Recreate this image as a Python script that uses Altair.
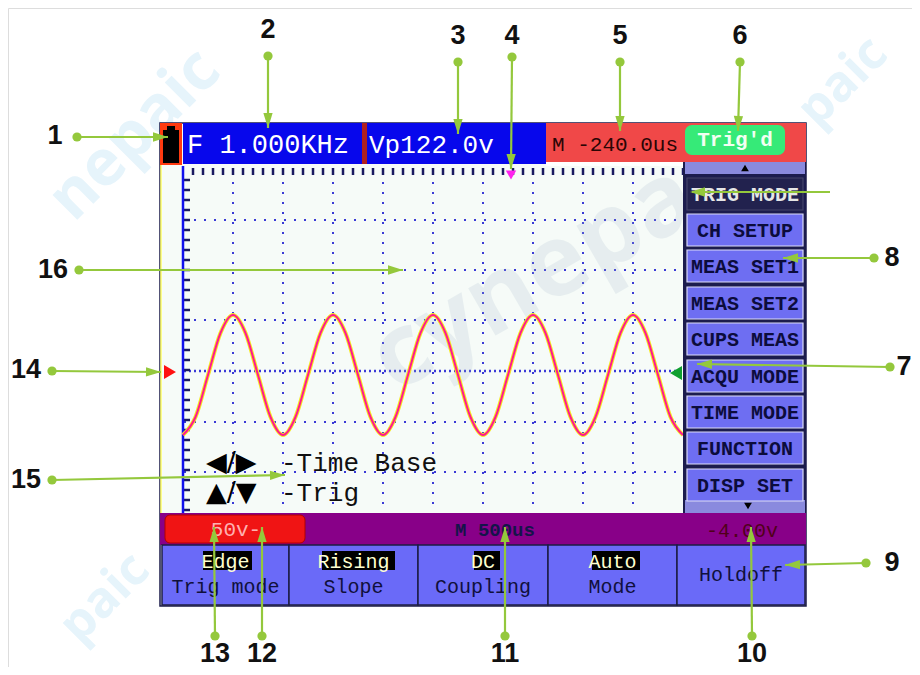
import math
import altair as alt
import pandas as pd

# ---------------- data (screen pixel frame) ----------------
# waveform samples
wave_x = [183, 195.5, 208, 220.5, 233, 245.5, 258, 270.5, 283, 295.5, 308, 320.5, 333, 345.5,
          358, 370.5, 383, 395.5, 408, 420.5, 433, 445.5, 458, 470.5, 483, 495.5, 508, 520.5,
          533, 545.5, 558, 570.5, 583, 595.5, 608, 620.5, 633, 645.5, 658, 670.5, 683]
wave_y = [435, 417, 375, 333, 315, 333, 375, 417,
          435, 417, 375, 333, 315, 333, 375, 417,
          435, 417, 375, 333, 315, 333, 375, 417,
          435, 417, 375, 333, 315, 333, 375, 417,
          435, 417, 375, 333, 315, 333, 375, 417,
          435]

grid_vx = [233, 283, 333, 383, 433, 483, 533, 583, 633]
grid_hy = [220, 270, 320, 422, 472]
grid_center_y = [371]

menu_items = ["TRIG MODE", "CH SETUP", "MEAS SET1", "MEAS SET2", "CUPS MEAS",
              "ACQU MODE", "TIME MODE", "FUNCTION", "DISP SET"]
menu_cy = [194, 230, 266, 303, 339, 376, 412, 448, 485]

btn_x0 = [162, 289, 418, 548, 677]
btn_x1 = [289, 418, 548, 677, 805]
btn_top = ["Edge", "Rising", "DC", "Auto", ""]
btn_bot = ["Trig mode", "Slope", "Coupling", "Mode", "Holdoff"]
hl_x0 = [203, 322, 474, 592]
hl_x1 = [252, 395, 500, 640]

callout_label = ["1", "2", "3", "4", "5", "6", "8", "7", "9", "10", "11", "12", "13", "14", "15", "16"]
callout_lx = [55, 268, 458, 512, 620, 740, 892, 904, 892, 752, 505, 262, 215, 26, 26, 53]
callout_ly = [136, 30, 36, 36, 36, 36, 258, 367, 563, 654, 654, 654, 654, 370, 480, 270]
callout_dx = [77, 268, 458, 512, 620, 740, 874, 890, 866, 752, 505, 262, 215, 52, 52, 79]
callout_dy = [137, 56, 62, 57, 62, 62, 258, 367, 563, 636, 636, 636, 636, 371, 480, 270]
callout_tx = [168, 268, 458, 511, 620, 738, 783, 697, 785, 751, 505, 262, 214, 161, 285, 403]
callout_ty = [137, 128, 134, 169, 131, 131, 258, 364, 565, 527, 527, 527, 527, 372, 475, 270]

# ---------------- scales ----------------
xs = alt.Scale(domain=[8, 912], nice=False, zero=False)
ys = alt.Scale(domain=[8, 667], nice=False, zero=False, reverse=True)


def X(f="x"):
    return alt.X(f"{f}:Q", scale=xs, axis=None)


def Y(f="y"):
    return alt.Y(f"{f}:Q", scale=ys, axis=None)


def rects(rows, radius=0):
    df = pd.DataFrame(rows, columns=["x", "x2", "y", "y2", "fill", "stroke", "sw"])
    return alt.Chart(df).mark_rect(cornerRadius=radius).encode(
        x=X("x"), x2="x2", y=Y("y"), y2="y2",
        color=alt.Color("fill:N", scale=None),
        stroke=alt.Stroke("stroke:N", scale=None),
        strokeWidth=alt.StrokeWidth("sw:Q", scale=None),
    )


def texts(rows, font, weight="normal", align="center", angle=0, opacity=1.0):
    df = pd.DataFrame(rows, columns=["x", "y", "text", "size", "color"])
    return alt.Chart(df).mark_text(font=font, fontWeight=weight, align=align,
                                   baseline="middle", angle=angle, opacity=opacity).encode(
        x=X(), y=Y(), text="text:N",
        color=alt.Color("color:N", scale=None),
        size=alt.Size("size:Q", scale=None),
    )


def rules(rows, dash=None, cap="butt"):
    df = pd.DataFrame(rows, columns=["x", "x2", "y", "y2", "color", "sw"])
    mk = alt.Chart(df).mark_rule(strokeDash=dash, strokeCap=cap) if dash else alt.Chart(df).mark_rule(strokeCap=cap)
    return mk.encode(
        x=X("x"), x2="x2", y=Y("y"), y2="y2",
        color=alt.Color("color:N", scale=None),
        strokeWidth=alt.StrokeWidth("sw:Q", scale=None),
    )


def symbols(rows, shape):
    df = pd.DataFrame(rows, columns=["x", "y", "size", "color", "angle"])
    return alt.Chart(df).mark_point(shape=shape, filled=True, opacity=1, strokeWidth=0).encode(
        x=X(), y=Y(),
        size=alt.Size("size:Q", scale=None),
        color=alt.Color("color:N", scale=None),
        angle=alt.Angle("angle:Q", scale=None),
    )


layers = []

# ---------------- watermarks (under everything) ----------------
layers.append(texts([[135, 135, "nepaic", 64, "#e6f4fb"],
                     [105, 598, "paic", 50, "#e6f4fb"],
                     [843, 82, "paic", 50, "#e6f4fb"]],
                    font="Open Sans", weight="bold", angle=315))

# ---------------- screen body ----------------
layers.append(rects([
    [160, 806, 123, 606, "#f6fbf8", "#1a1a4a", 1.5],      # screen frame
]))
layers.append(rules([[161, 161, 165, 513, "#ffff66", 1.5]]))

# grid
layers.append(rules([[gx, gx, 172, 512, "#3a3ad6", 2] for gx in grid_vx] +
                    [[184, 683, gy, gy, "#3a3ad6", 2] for gy in grid_hy], dash=[2, 8]))
layers.append(rules([[184, 683, gy, gy, "#3a3ad6", 2.5] for gy in grid_center_y], dash=[2, 3]))
# edge ticks
layers.append(rules([[tx, tx, 168, 175, "#1a1a60", 2.5] for tx in range(193, 684, 10)] +
                    [[183, 190, ty, ty, "#1a1a60", 2.5] for ty in range(180, 512, 10)]))
layers.append(rules([[183, 183, 166, 513, "#1010ee", 2.5]]))

# middle watermark (semi transparent over the grid)
layers.append(texts([[570, 258, "cynepaic", 100, "#9fb4c8"]],
                    font="Open Sans", weight="bold", angle=330, opacity=0.18))

# waveform
wave = pd.DataFrame({"x": wave_x, "y": wave_y})
layers.append(alt.Chart(wave).mark_line(interpolate="monotone", color="#f4ea20", strokeWidth=4).encode(x=X(), y=Y()))
layers.append(alt.Chart(wave).mark_line(interpolate="monotone", color="#ff1a8e", strokeWidth=2).encode(x=X(), y=Y()))

# overlay help text
layers.append(texts([[206, 463, "◀/▶", 27, "#000000"], [206, 493, "▲/▼", 27, "#000000"]],
                    font="DejaVu Sans", align="left"))
layers.append(texts([[281, 463, "-Time Base", 26, "#101010"], [281, 493, "-Trig", 26, "#101010"]],
                    font="Liberation Mono", align="left"))

# markers
layers.append(symbols([[170, 372, 190, "#ff1010", 0]], "triangle-right"))
layers.append(symbols([[676, 373, 190, "#10a030", 0]], "triangle-left"))
layers.append(symbols([[511, 175, 110, "#ff22ee", 0]], "triangle-down"))

# ---------------- top bar ----------------
layers.append(rects([
    [160, 182, 123, 165, "#ff3a10", "#ff3a10", 0],
    [163, 179, 130, 163, "#000000", "#000000", 0],
    [167, 175, 126, 131, "#000000", "#000000", 0],
    [183, 362, 123, 164, "#0707ec", "#0707ec", 0],
    [362, 367, 123, 164, "#b02020", "#b02020", 0],
    [367, 546, 123, 164, "#0707ec", "#0707ec", 0],
    [546, 806, 123, 162, "#f04848", "#f04848", 0],
    [546, 685, 162, 166, "#ffffff", "#ffffff", 0],
]))
layers.append(rects([[685, 785, 125, 155, "#36ea78", "#36ea78", 0]], radius=7))
layers.append(texts([[187, 145, "F 1.000KHz", 27, "#ffffff"],
                     [369, 145, "Vp122.0v", 26, "#ffffff"]],
                    font="Liberation Mono", align="left"))
layers.append(texts([[552, 145, "M -240.0us", 21, "#2a0505"]],
                    font="Liberation Mono", align="left"))
layers.append(texts([[735, 140, "Trig'd", 21, "#f2fff2"]], font="Liberation Mono", weight="bold"))

# ---------------- right menu ----------------
menu_rows = [[683, 806, 162, 513, "#1c1c4e", "#1c1c4e", 0],
             [685, 805, 162, 174, "#8a8ade", "#8a8ade", 0],
             [685, 805, 500, 513, "#8a8ade", "#8a8ade", 0]]
for i, cy in enumerate(menu_cy):
    fill = "#22224e" if i == 0 else "#6e6ef2"
    edge = "#dcdcf8" if i > 0 else "#44446a"
    menu_rows.append([687, 803, cy - 16, cy + 16, fill, edge, 1.2])
layers.append(rects(menu_rows))
layers.append(symbols([[745, 168, 60, "#000000", 0]], "triangle-up"))
layers.append(symbols([[748, 506, 60, "#000000", 0]], "triangle-down"))
layers.append(texts([[745, cy + 1, t, 20, "#e6e6e6" if i == 0 else "#0c0c3c"]
                     for i, (t, cy) in enumerate(zip(menu_items, menu_cy))],
                    font="Liberation Mono", weight="bold"))

# ---------------- bottom status bar ----------------
layers.append(rects([[160, 806, 513, 545, "#880088", "#880088", 0]]))
layers.append(rects([[165, 305, 515, 543, "#f01414", "#b00000", 1]], radius=5))
layers.append(texts([[236, 530, "50v-", 21, "#ffb0b0"]], font="Liberation Mono"))
layers.append(texts([[495, 530, "M 500us", 19, "#14144a"]], font="Liberation Mono", weight="bold"))
layers.append(texts([[742, 531, "-4.00v", 20, "#50001a"]], font="Liberation Mono"))

# ---------------- bottom buttons ----------------
btn_rows = [[a, b, 545, 605, "#6a6af8", "#1c1c44", 1.5] for a, b in zip(btn_x0, btn_x1)]
btn_rows += [[a, b, 551, 570, "#000000", "#000000", 0] for a, b in zip(hl_x0, hl_x1)]
layers.append(rects(btn_rows))
btn_txt = []
for a, b, t1, t2 in zip(btn_x0, btn_x1, btn_top, btn_bot):
    cx = (a + b) / 2
    if t1:
        btn_txt.append([cx, 562, t1, 20, "#ffffd0"])
        btn_txt.append([cx, 587, t2, 20, "#10103c"])
    else:
        btn_txt.append([cx, 575, t2, 20, "#10103c"])
layers.append(texts(btn_txt, font="Liberation Mono"))

# ---------------- callouts ----------------
GREEN = "#94c83c"
line_rows = [[dx, tx, dy, ty, GREEN, 2.2] for dx, dy, tx, ty in zip(callout_dx, callout_dy, callout_tx, callout_ty)]
line_rows.append([830, 692, 192, 192, GREEN, 2.2])   # trigger-mode pointer (no number)
layers.append(rules(line_rows))
layers.append(alt.Chart(pd.DataFrame({"x": callout_dx, "y": callout_dy})).mark_circle(
    size=85, color=GREEN, opacity=1).encode(x=X(), y=Y()))

arrow_rows = []
for dx, dy, tx, ty in list(zip(callout_dx, callout_dy, callout_tx, callout_ty)) + [(830, 192, 690, 192)]:
    ang = math.degrees(math.atan2(tx - dx, -(ty - dy))) % 360
    arrow_rows.append([tx, ty, 225, GREEN, ang])
layers.append(symbols(arrow_rows, "M0,0L-0.62,2L0.62,2Z"))

layers.append(texts([[lx, ly, t, 27, "#111111"] for t, lx, ly in zip(callout_label, callout_lx, callout_ly)],
                    font="Liberation Sans Narrow, Liberation Sans, Arial", weight="bold"))

chart = alt.layer(*layers).properties(
    width=904, height=659, padding=0,
    autosize=alt.AutoSizeParams(type="none"),
).configure_view(stroke=None).configure(background="#ffffff")

chart.save("out.html", embed_options={"renderer": "svg", "actions": False})
